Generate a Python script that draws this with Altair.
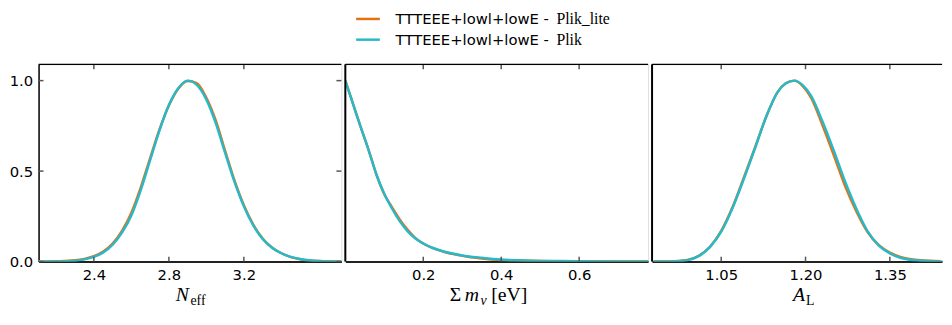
import altair as alt
import pandas as pd

# ---------------- data ----------------
SERIES = ["Plik_lite", "Plik"]
LEGEND_PREFIX = ["TTTEEE+lowl+lowE - ", "TTTEEE+lowl+lowE - "]
COLORS = ["#E37213", "#27B9C9"]

NEFF_X = [2.10, 2.20, 2.30, 2.35, 2.40, 2.45, 2.50, 2.55, 2.60, 2.65, 2.70, 2.75, 2.80, 2.85, 2.90,
          2.95, 3.00, 3.05, 3.10, 3.15, 3.20, 3.25, 3.30, 3.35, 3.40, 3.45, 3.50, 3.55, 3.60, 3.72]
NEFF_LITE = [0.000, 0.002, 0.007, 0.015, 0.030, 0.056, 0.100, 0.170, 0.270, 0.410, 0.572, 0.730, 0.862, 0.955, 0.998,
             0.985, 0.905, 0.780, 0.612, 0.448, 0.311, 0.205, 0.128, 0.078, 0.046, 0.025, 0.013, 0.006, 0.003, 0.000]
NEFF_PLIK = [0.000, 0.001, 0.005, 0.012, 0.026, 0.050, 0.093, 0.160, 0.255, 0.395, 0.560, 0.725, 0.865, 0.958, 1.000,
             0.975, 0.895, 0.765, 0.600, 0.440, 0.305, 0.200, 0.125, 0.077, 0.046, 0.026, 0.014, 0.007, 0.003, 0.000]

MNU_X = [0.0, 0.02, 0.04, 0.06, 0.08, 0.10, 0.12, 0.14, 0.16, 0.18, 0.20, 0.225, 0.25, 0.30, 0.35,
         0.40, 0.45, 0.50, 0.60, 0.70, 0.78]
MNU_LITE = [1.0, 0.87, 0.74, 0.615, 0.48, 0.372, 0.300, 0.232, 0.175, 0.130, 0.100, 0.074, 0.056, 0.032, 0.017,
            0.008, 0.005, 0.003, 0.002, 0.001, 0.0]
MNU_PLIK = [1.0, 0.87, 0.74, 0.615, 0.48, 0.375, 0.292, 0.222, 0.167, 0.128, 0.100, 0.075, 0.057, 0.034, 0.021,
            0.011, 0.007, 0.004, 0.002, 0.001, 0.0]

AL_X = [0.93, 0.96, 0.99, 1.01, 1.03, 1.05, 1.07, 1.09, 1.11, 1.13, 1.15, 1.165, 1.18, 1.195, 1.21,
        1.23, 1.25, 1.27, 1.29, 1.31, 1.33, 1.35, 1.37, 1.40, 1.45]
AL_LITE = [0.0, 0.001, 0.009, 0.032, 0.082, 0.170, 0.300, 0.462, 0.630, 0.800, 0.935, 0.985, 1.0, 0.970, 0.905,
           0.755, 0.590, 0.420, 0.280, 0.165, 0.092, 0.050, 0.025, 0.009, 0.001]
AL_PLIK = [0.0, 0.001, 0.008, 0.030, 0.080, 0.165, 0.295, 0.455, 0.625, 0.800, 0.935, 0.985, 1.0, 0.975, 0.915,
           0.775, 0.615, 0.445, 0.295, 0.170, 0.090, 0.045, 0.020, 0.006, 0.001]

Y_TICKS = [0.0, 0.5, 1.0]
NEFF_TICKS = [2.4, 2.8, 3.2]
MNU_TICKS = [0.2, 0.4, 0.6]
AL_TICKS = [1.05, 1.20, 1.35]

NEFF_TITLE = ["N", "eff"]
MNU_TITLE = ["\u03a3", "m", "\u03bd", "[eV]"]
AL_TITLE = ["A", "L"]

# ---------------- style ----------------
H = 200
Y_DOMAIN = [0, 1.09]
SERIF = "Liberation Serif"
SANS = "DejaVu Sans"
TICK_COLOR = "#555555"
TB = H + 40   # title baseline
SB = H + 44   # subscript baseline
TOP = -54     # top extent shared by all panels


def txt(s, x, y, size, font=SERIF, italic=False, baseline="alphabetic"):
    return alt.Chart(pd.DataFrame({"s": [s]})).mark_text(
        font=font, fontSize=size, fontStyle="italic" if italic else "normal",
        align="left", baseline=baseline, color="black"
    ).encode(x=alt.value(x), y=alt.value(y), text="s:N")


def one():
    return pd.DataFrame({"k": [0]})


def panel(xs, lite, plik, domain, ticks, fmt, width, extra, show_y=False, left_border=False,
          open_right=False):
    xscale = alt.Scale(domain=domain, nice=False, zero=False)
    yscale = alt.Scale(domain=Y_DOMAIN, nice=False, zero=False)
    xaxis = alt.Axis(values=ticks, format=fmt, title=None, ticks=False, grid=False,
                     domainColor="#222222", domainWidth=2, labelFont=SANS, labelFontSize=15,
                     labelColor="black", labelPadding=6)
    if show_y:
        yaxis = alt.Axis(values=Y_TICKS, format=".1f", title=None, ticks=False, grid=False,
                         domainColor="black", domainWidth=1.5, labelFont=SANS, labelFontSize=15,
                         labelColor="black", labelPadding=6, minExtent=30, maxExtent=30)
    else:
        yaxis = None

    layers = []
    # invisible spacer so that all panels share the same top extent
    layers.append(alt.Chart(one()).mark_rule(opacity=0).encode(
        x=alt.value(1), y=alt.value(TOP), y2=alt.value(0)))
    for vals, col in ((lite, COLORS[0]), (plik, COLORS[1])):
        df = pd.DataFrame({"x": xs, "p": vals})
        layers.append(alt.Chart(df).mark_line(color=col, strokeWidth=2.5,
                                              interpolate="monotone", clip=True).encode(
            x=alt.X("x:Q", scale=xscale, axis=xaxis),
            y=alt.Y("p:Q", scale=yscale, axis=yaxis)))
    tdf = pd.DataFrame({"x": ticks})
    for y0, y1 in ((H, H - 5), (0, 5)):
        layers.append(alt.Chart(tdf).mark_rule(color=TICK_COLOR, strokeWidth=1.5).encode(
            x=alt.X("x:Q", scale=xscale, axis=xaxis), y=alt.value(y0), y2=alt.value(y1)))
    if show_y:
        ydf = pd.DataFrame({"p": Y_TICKS})
        for x0, x1 in ((0, 5), (width, width - 5)):
            layers.append(alt.Chart(ydf).mark_rule(color=TICK_COLOR, strokeWidth=1.5).encode(
                y=alt.Y("p:Q", scale=yscale, axis=yaxis), x=alt.value(x0), x2=alt.value(x1)))
    # top frame
    layers.append(alt.Chart(one()).mark_rule(color="black", strokeWidth=1.2).encode(
        x=alt.value(0), x2=alt.value(width), y=alt.value(0)))
    if left_border:
        layers.append(alt.Chart(one()).mark_rule(color="black", strokeWidth=2).encode(
            x=alt.value(0), y=alt.value(0), y2=alt.value(H)))
    layers.extend(extra)
    if open_right:
        # the reference figure is cut open on the right: mask the panel's right edge
        layers.append(alt.Chart(one()).mark_rule(color="white", strokeWidth=3).encode(
            x=alt.value(width), y=alt.value(0.8), y2=alt.value(H - 1.2)))
    return alt.layer(*layers).properties(width=width, height=H)


# titles
t1 = [txt(NEFF_TITLE[0], 139, TB, 20, italic=True), txt(NEFF_TITLE[1], 154, SB, 14)]
t2 = [txt(MNU_TITLE[0], 106, TB, 20), txt(MNU_TITLE[1], 121, TB, 20, italic=True),
      txt(MNU_TITLE[2], 137, SB, 14, italic=True), txt(MNU_TITLE[3], 148, TB, 20)]
t3 = [txt(AL_TITLE[0], 143, TB, 20, italic=True), txt(AL_TITLE[1], 156, SB, 14)]

# legend (drawn above the middle panel)
legend = []
for i in range(2):
    yy = TOP + 8 + 21 * i
    legend.append(alt.Chart(one()).mark_rule(color=COLORS[i], strokeWidth=2.5).encode(
        x=alt.value(11), x2=alt.value(35), y=alt.value(yy)))
    legend.append(txt(LEGEND_PREFIX[i], 51, yy, 15, font=SANS, baseline="middle"))
    legend.append(txt(SERIES[i], 214, yy, 16, font=SERIF, baseline="middle"))

p1 = panel(NEFF_X, NEFF_LITE, NEFF_PLIK, [2.105, 3.72], NEFF_TICKS, ".1f", 307, t1, show_y=True)
p2 = panel(MNU_X, MNU_LITE, MNU_PLIK, [0.0, 0.777], MNU_TICKS, ".1f", 307, t2 + legend, left_border=True)
p3 = panel(AL_X, AL_LITE, AL_PLIK, [0.927, 1.4428], AL_TICKS, ".2f", 294, t3, left_border=True,
           open_right=True)

chart = alt.hconcat(p1, p2, p3, spacing=0).properties(padding=0).configure_view(
    stroke=None, strokeWidth=0).configure(background="white")

chart.save("out.html", embed_options={"renderer": "svg", "actions": False})
